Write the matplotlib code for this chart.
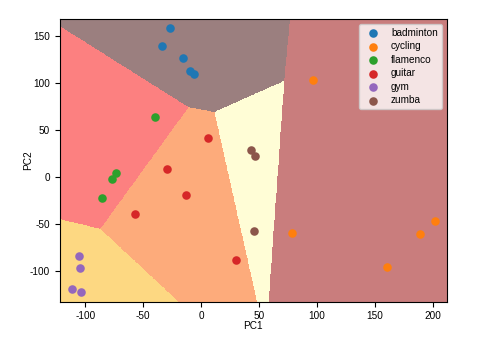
import numpy as np
import matplotlib
matplotlib.use("Agg")
import matplotlib.pyplot as plt
from matplotlib.colors import ListedColormap

plt.rcParams['font.family'] = ['Liberation Sans', 'DejaVu Sans']
plt.rcParams['font.size'] = 7.2
plt.rcParams['axes.unicode_minus'] = False

# ---- data ----
classes = ['badminton', 'cycling', 'flamenco', 'guitar', 'gym', 'zumba']

pc1_values = [-26.9, -34.1, -15.4, -9.3, -6.1,
              96.3, 78.5, 160.8, 189.3, 202.0,
              -40.2, -73.8, -77.3, -85.6,
              5.6, -29.6, -13.0, -57.3, 30.4,
              -105.2, -104.6, -111.8, -103.7,
              42.7, 46.8, 45.7]
pc2_values = [157.8, 139.0, 125.9, 112.8, 109.6,
              102.9, -59.3, -95.7, -60.3, -46.8,
              64.1, 3.9, -2.1, -22.7,
              41.5, 8.5, -19.1, -39.7, -88.6,
              -83.7, -96.8, -118.8, -122.7,
              28.7, 22.0, -57.1]
point_labels = ['badminton'] * 5 + ['cycling'] * 5 + ['flamenco'] * 4 + \
               ['guitar'] * 5 + ['gym'] * 4 + ['zumba'] * 3

# linear decision function of the region classifier (one row per class)
region_coef_pc1 = [0.0, 48.89, -0.6124, -0.2321, -0.8363, 0.4852]
region_coef_pc2 = [0.0, -3.667, -0.7908, -1.0148, -1.5425, -0.8839]
region_intercept = [0.0, -3135.9, 51.984, 72.69, -9.06, 55.409]

region_colors = ['#9b7f7f', '#c97d7d', '#fc8080', '#fdab7b', '#fdd882', '#fffdd6']
point_colors = ['#1f77b4', '#ff7f0e', '#2ca02c', '#d62728', '#9467bd', '#8c564b']

# ---- plot ----
x = np.array(pc1_values)
y = np.array(pc2_values)
lab = np.array(point_labels)

x_min, x_max = x.min() - 10, x.max() + 10
y_min, y_max = y.min() - 10, y.max() + 10

xx, yy = np.meshgrid(np.linspace(x_min, x_max, 1000),
                     np.linspace(y_min, y_max, 800))
c1 = np.array(region_coef_pc1)[:, None, None]
c2 = np.array(region_coef_pc2)[:, None, None]
b0 = np.array(region_intercept)[:, None, None]
Z = np.argmax(c1 * xx + c2 * yy + b0, axis=0)

fig = plt.figure(figsize=(4.8, 3.39), dpi=100)
ax = fig.add_axes([0.125, 0.110, 0.8056, 0.834])
ax.pcolormesh(xx, yy, Z, cmap=ListedColormap(region_colors),
              vmin=-0.5, vmax=len(classes) - 0.5, shading='nearest',
              rasterized=True)

for cls, col in zip(classes, point_colors):
    m = lab == cls
    ax.scatter(x[m], y[m], s=38, color=col, label=cls, zorder=3, linewidths=0)

ax.set_xlim(x_min, x_max)
ax.set_ylim(y_min, y_max)
ax.set_xlabel('PC1')
ax.set_ylabel('PC2')
ax.yaxis.set_label_coords(-0.07, 0.5)
ax.xaxis.set_label_coords(0.5, -0.068)
ax.legend(loc='upper right', fontsize=7.2, labelspacing=0.35)

fig.savefig('out.png', dpi=100)
